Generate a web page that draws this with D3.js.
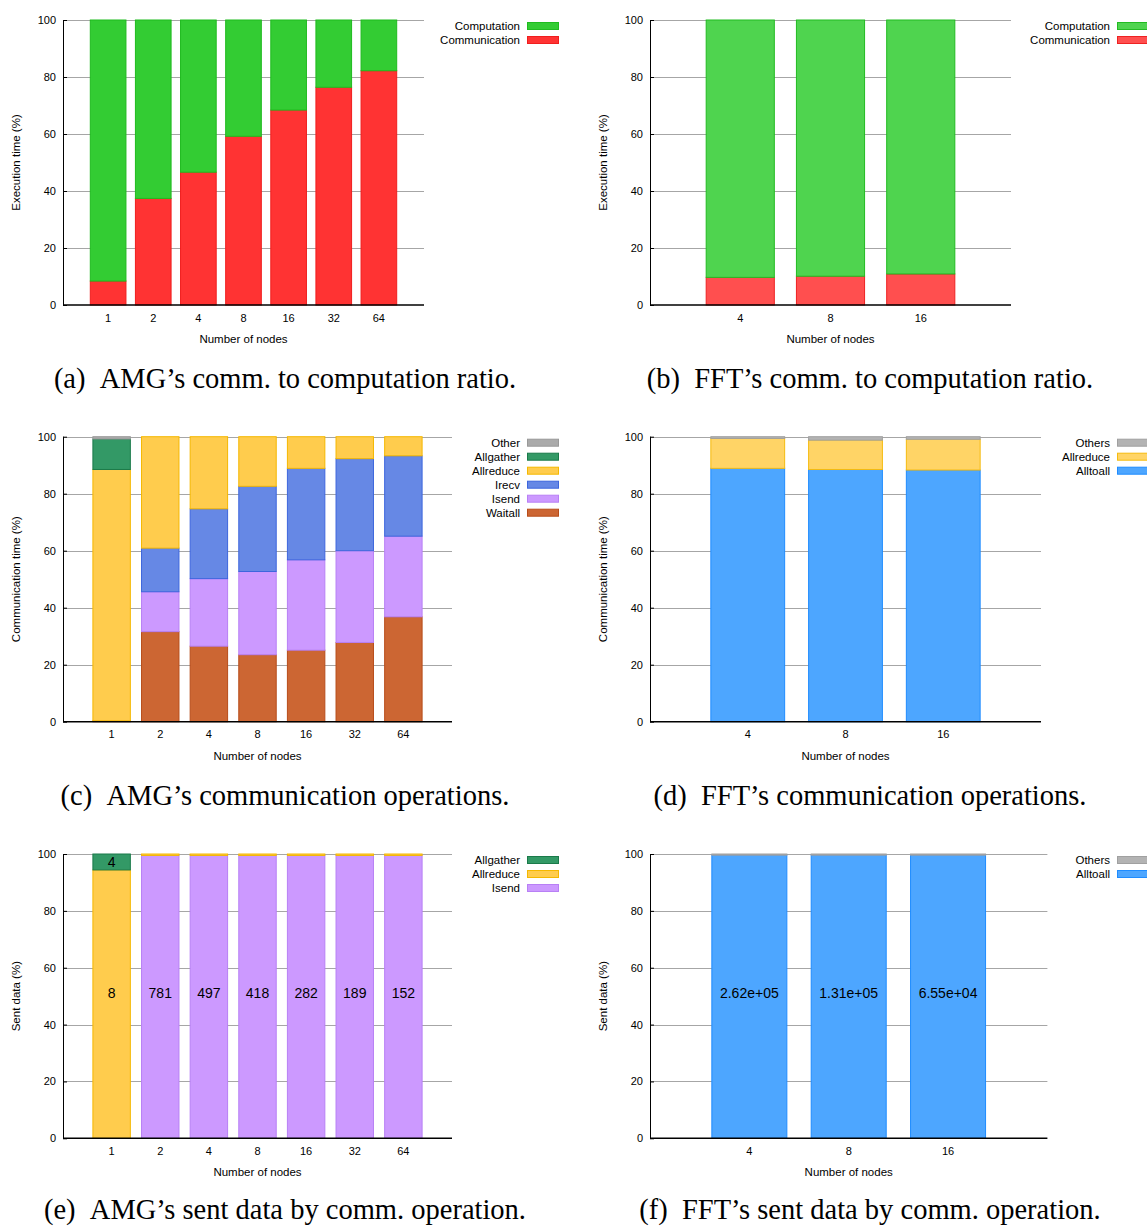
<!DOCTYPE html>
<html>
<head>
<meta charset="utf-8">
<script src="https://cdn.jsdelivr.net/npm/d3@7"></script>
<style>
  body { margin: 0; background: #fff; }
  svg { display: block; font-family: 'Liberation Sans', Arial, sans-serif; }
  .caption { font-family: 'Liberation Serif', 'Times New Roman', serif; font-size: 28.5px; }
</style>
</head>
<body>
<svg id="fig" width="1147" height="1226"></svg>
<script>
// ---- data ----
const amgNodes = ['1', '2', '4', '8', '16', '32', '64'];
const fftNodes = ['4', '8', '16'];

// (a) AMG comm. vs computation (% of execution time)
const amgCommunication = [8.4, 37.4, 46.6, 59.2, 68.4, 76.4, 82.2];
const amgComputation = [91.6, 62.6, 53.4, 40.8, 31.6, 23.6, 17.8];

// (b) FFT comm. vs computation
const fftCommunication = [9.7, 10.1, 10.9];
const fftComputation = [90.3, 89.9, 89.1];

// (c) AMG communication operations (% of communication time)
const amgWaitall = [0.3, 31.6, 26.5, 23.5, 25.1, 27.8, 36.8];
const amgIsend = [0, 14.0, 23.7, 29.2, 31.7, 32.2, 28.3];
const amgIrecv = [0, 15.3, 24.5, 29.9, 32.1, 32.3, 28.2];
const amgAllreduce = [88.2, 39.1, 25.3, 17.4, 11.1, 7.7, 6.7];
const amgAllgather = [10.7, 0, 0, 0, 0, 0, 0];
const amgOther = [0.8, 0, 0, 0, 0, 0, 0];

// (d) FFT communication operations
const fftAlltoall = [88.9, 88.5, 88.3];
const fftAllreduce = [10.5, 10.3, 10.8];
const fftOthers = [0.6, 1.2, 0.9];

// (e) AMG sent data by operation (%), with message-size labels
const amgSentIsend = [0, 99.5, 99.5, 99.5, 99.5, 99.5, 99.5];
const amgSentAllreduce = [94.4, 0.5, 0.5, 0.5, 0.5, 0.5, 0.5];
const amgSentAllgather = [5.6, 0, 0, 0, 0, 0, 0];
const amgSentLabels = ['8', '781', '497', '418', '282', '189', '152'];
const amgSentLabelAt = [51, 51, 51, 51, 51, 51, 51];
const amgAllgatherLabels = ['4', '', '', '', '', '', ''];
const amgAllgatherLabelAt = [97.2, 0, 0, 0, 0, 0, 0];

// (f) FFT sent data by operation
const fftSentAlltoall = [99.6, 99.6, 99.6];
const fftSentOthers = [0.4, 0.4, 0.4];
const fftSentLabels = ['2.62e+05', '1.31e+05', '6.55e+04'];
const fftSentLabelAt = [51, 51, 51];

// ---- styles ----
const ratioColorsA = {
  Computation: { fill: '#33cc33', stroke: '#1fbb1f' },
  Communication: { fill: '#ff3333', stroke: '#f01e1e' },
};
const ratioColorsB = {
  Computation: { fill: '#4fd44f', stroke: '#22bb22' },
  Communication: { fill: '#ff4f4f', stroke: '#ee2222' },
};
const opColors = {
  Other: { fill: '#aaaaaa', stroke: '#999999' },
  Others: { fill: '#b3b3b3', stroke: '#a0a0a0' },
  Allgather: { fill: '#339966', stroke: '#1a7a4a' },
  Allreduce: { fill: '#ffcc4d', stroke: '#f5b800' },
  Irecv: { fill: '#6688e5', stroke: '#3d66dd' },
  Isend: { fill: '#cc99ff', stroke: '#b880f5' },
  Waitall: { fill: '#cc6633', stroke: '#b84d1a' },
  Alltoall: { fill: '#4da6ff', stroke: '#1f8cff' },
};
const fftOpColors = { ...opColors, Allreduce: { fill: '#ffd466', stroke: '#f5bb10' } };

const svg = d3.select('#fig');

function drawPanel(p) {
  const g = svg.append('g');

  const x = d3.scaleBand()
    .domain(p.nodes)
    .range([p.left, p.right])
    .paddingInner(p.gap)
    .paddingOuter((1 + p.gap) / 2);
  const y = d3.scaleLinear().domain([0, 100]).range([p.bottom, p.top]);

  // gridlines behind the bars
  g.append('g')
    .selectAll('line')
    .data(y.ticks(5).filter((d) => d > 0))
    .join('line')
    .attr('x1', p.left)
    .attr('x2', p.right)
    .attr('y1', (d) => Math.round(y(d)) + 0.5)
    .attr('y2', (d) => Math.round(y(d)) + 0.5)
    .attr('stroke', '#a6a6a6');

  // stacked bars
  const rows = p.nodes.map((n, i) => {
    const r = { node: n };
    p.series.forEach((s) => (r[s.name] = s.values[i]));
    return r;
  });
  const stacked = d3.stack().keys(p.series.map((s) => s.name))(rows);

  g.append('g')
    .selectAll('g')
    .data(stacked)
    .join('g')
    .attr('fill', (d) => p.colors[d.key].fill)
    .attr('stroke', (d) => p.colors[d.key].stroke)
    .attr('stroke-width', 1)
    .selectAll('rect')
    .data((d) => d.filter((v) => v[1] - v[0] > 0))
    .join('rect')
    .attr('x', (d) => x(d.data.node))
    .attr('width', x.bandwidth())
    .attr('y', (d) => y(d[1]))
    .attr('height', (d) => y(d[0]) - y(d[1]));

  // in-bar labels
  (p.labels || []).forEach((lab) => {
    g.append('g')
      .selectAll('text')
      .data(p.nodes.map((n, i) => ({ node: n, text: lab.text[i], at: lab.at[i] })).filter((d) => d.text))
      .join('text')
      .attr('x', (d) => x(d.node) + x.bandwidth() / 2)
      .attr('y', (d) => y(d.at))
      .attr('dy', '0.36em')
      .attr('text-anchor', 'middle')
      .attr('font-size', 14)
      .text((d) => d.text);
  });

  // y axis
  g.append('g')
    .attr('transform', `translate(${p.left},0)`)
    .call(d3.axisLeft(y).ticks(5).tickSize(-4).tickPadding(7))
    .attr('font-size', 11)
    .attr('font-family', null)
    .call((a) => a.select('.domain').remove());

  g.append('line')
    .attr('x1', p.left + 0.5)
    .attr('x2', p.left + 0.5)
    .attr('y1', p.top)
    .attr('y2', p.bottom)
    .attr('stroke', '#000');

  // x axis
  g.append('g')
    .attr('transform', `translate(0,${p.bottom})`)
    .call(d3.axisBottom(x).tickSize(0).tickPadding(9))
    .attr('font-size', 11)
    .attr('font-family', null)
    .call((a) => a.select('.domain').remove());

  g.append('line')
    .attr('x1', p.left)
    .attr('x2', p.right)
    .attr('y1', p.bottom)
    .attr('y2', p.bottom)
    .attr('stroke', '#000')
    .attr('stroke-width', 1.5);

  // axis titles
  g.append('text')
    .attr('x', (p.left + p.right) / 2)
    .attr('y', p.bottom + 38)
    .attr('text-anchor', 'middle')
    .attr('font-size', 11.5)
    .text('Number of nodes');

  g.append('text')
    .attr('transform', `translate(${p.yTitleX},${(p.top + p.bottom) / 2}) rotate(-90)`)
    .attr('text-anchor', 'middle')
    .attr('dy', '0.35em')
    .attr('font-size', 11.5)
    .text(p.yTitle);

  // legend (top entry = top of stack)
  p.legend.forEach((name, i) => {
    const cy = p.top + 6 + i * 14;
    g.append('text')
      .attr('x', p.legendX)
      .attr('y', cy)
      .attr('dy', '0.35em')
      .attr('text-anchor', 'end')
      .attr('font-size', 11.5)
      .text(name);
    g.append('rect')
      .attr('x', p.legendX + 7.5)
      .attr('y', cy - 3.5)
      .attr('width', 31)
      .attr('height', 7)
      .attr('fill', p.colors[name].fill)
      .attr('stroke', p.colors[name].stroke);
  });

  // caption
  svg.append('text')
    .attr('class', 'caption')
    .attr('x', p.captionX)
    .attr('y', p.captionY)
    .attr('text-anchor', 'middle')
    .text(p.caption);
}

drawPanel({
  nodes: amgNodes,
  series: [
    { name: 'Communication', values: amgCommunication },
    { name: 'Computation', values: amgComputation },
  ],
  legend: ['Computation', 'Communication'],
  colors: ratioColorsA,
  left: 63, right: 424, top: 20, bottom: 305, gap: 0.21,
  yTitle: 'Execution time (%)', yTitleX: 15.5,
  legendX: 520,
  caption: '(a)\u2002AMG\u2019s comm. to computation ratio.', captionX: 285, captionY: 388,
});

drawPanel({
  nodes: fftNodes,
  series: [
    { name: 'Communication', values: fftCommunication },
    { name: 'Computation', values: fftComputation },
  ],
  legend: ['Computation', 'Communication'],
  colors: ratioColorsB,
  left: 650, right: 1011, top: 20, bottom: 305, gap: 0.245,
  yTitle: 'Execution time (%)', yTitleX: 602.5,
  legendX: 1110,
  caption: '(b)\u2002FFT\u2019s comm. to computation ratio.', captionX: 870, captionY: 388,
});

drawPanel({
  nodes: amgNodes,
  series: [
    { name: 'Waitall', values: amgWaitall },
    { name: 'Isend', values: amgIsend },
    { name: 'Irecv', values: amgIrecv },
    { name: 'Allreduce', values: amgAllreduce },
    { name: 'Allgather', values: amgAllgather },
    { name: 'Other', values: amgOther },
  ],
  legend: ['Other', 'Allgather', 'Allreduce', 'Irecv', 'Isend', 'Waitall'],
  colors: opColors,
  left: 63, right: 452, top: 436.7, bottom: 721.7, gap: 0.23,
  yTitle: 'Communication time (%)', yTitleX: 15.5,
  legendX: 520,
  caption: '(c)\u2002AMG\u2019s communication operations.', captionX: 285, captionY: 805,
});

drawPanel({
  nodes: fftNodes,
  series: [
    { name: 'Alltoall', values: fftAlltoall },
    { name: 'Allreduce', values: fftAllreduce },
    { name: 'Others', values: fftOthers },
  ],
  legend: ['Others', 'Allreduce', 'Alltoall'],
  colors: fftOpColors,
  left: 650, right: 1041, top: 436.7, bottom: 721.7, gap: 0.245,
  yTitle: 'Communication time (%)', yTitleX: 602.5,
  legendX: 1110,
  caption: '(d)\u2002FFT\u2019s communication operations.', captionX: 870, captionY: 805,
});

drawPanel({
  nodes: amgNodes,
  series: [
    { name: 'Isend', values: amgSentIsend },
    { name: 'Allreduce', values: amgSentAllreduce },
    { name: 'Allgather', values: amgSentAllgather },
  ],
  legend: ['Allgather', 'Allreduce', 'Isend'],
  colors: opColors,
  labels: [
    { text: amgSentLabels, at: amgSentLabelAt },
    { text: amgAllgatherLabels, at: amgAllgatherLabelAt },
  ],
  left: 63, right: 452, top: 854, bottom: 1138.3, gap: 0.23,
  yTitle: 'Sent data (%)', yTitleX: 15.5,
  legendX: 520,
  caption: '(e)\u2002AMG\u2019s sent data by comm. operation.', captionX: 285, captionY: 1219,
});

drawPanel({
  nodes: fftNodes,
  series: [
    { name: 'Alltoall', values: fftSentAlltoall },
    { name: 'Others', values: fftSentOthers },
  ],
  legend: ['Others', 'Alltoall'],
  colors: opColors,
  labels: [{ text: fftSentLabels, at: fftSentLabelAt }],
  left: 650, right: 1047.4, top: 854, bottom: 1138.3, gap: 0.245,
  yTitle: 'Sent data (%)', yTitleX: 602.5,
  legendX: 1110,
  caption: '(f)\u2002FFT\u2019s sent data by comm. operation.', captionX: 870, captionY: 1219,
});
</script>
</body>
</html>
